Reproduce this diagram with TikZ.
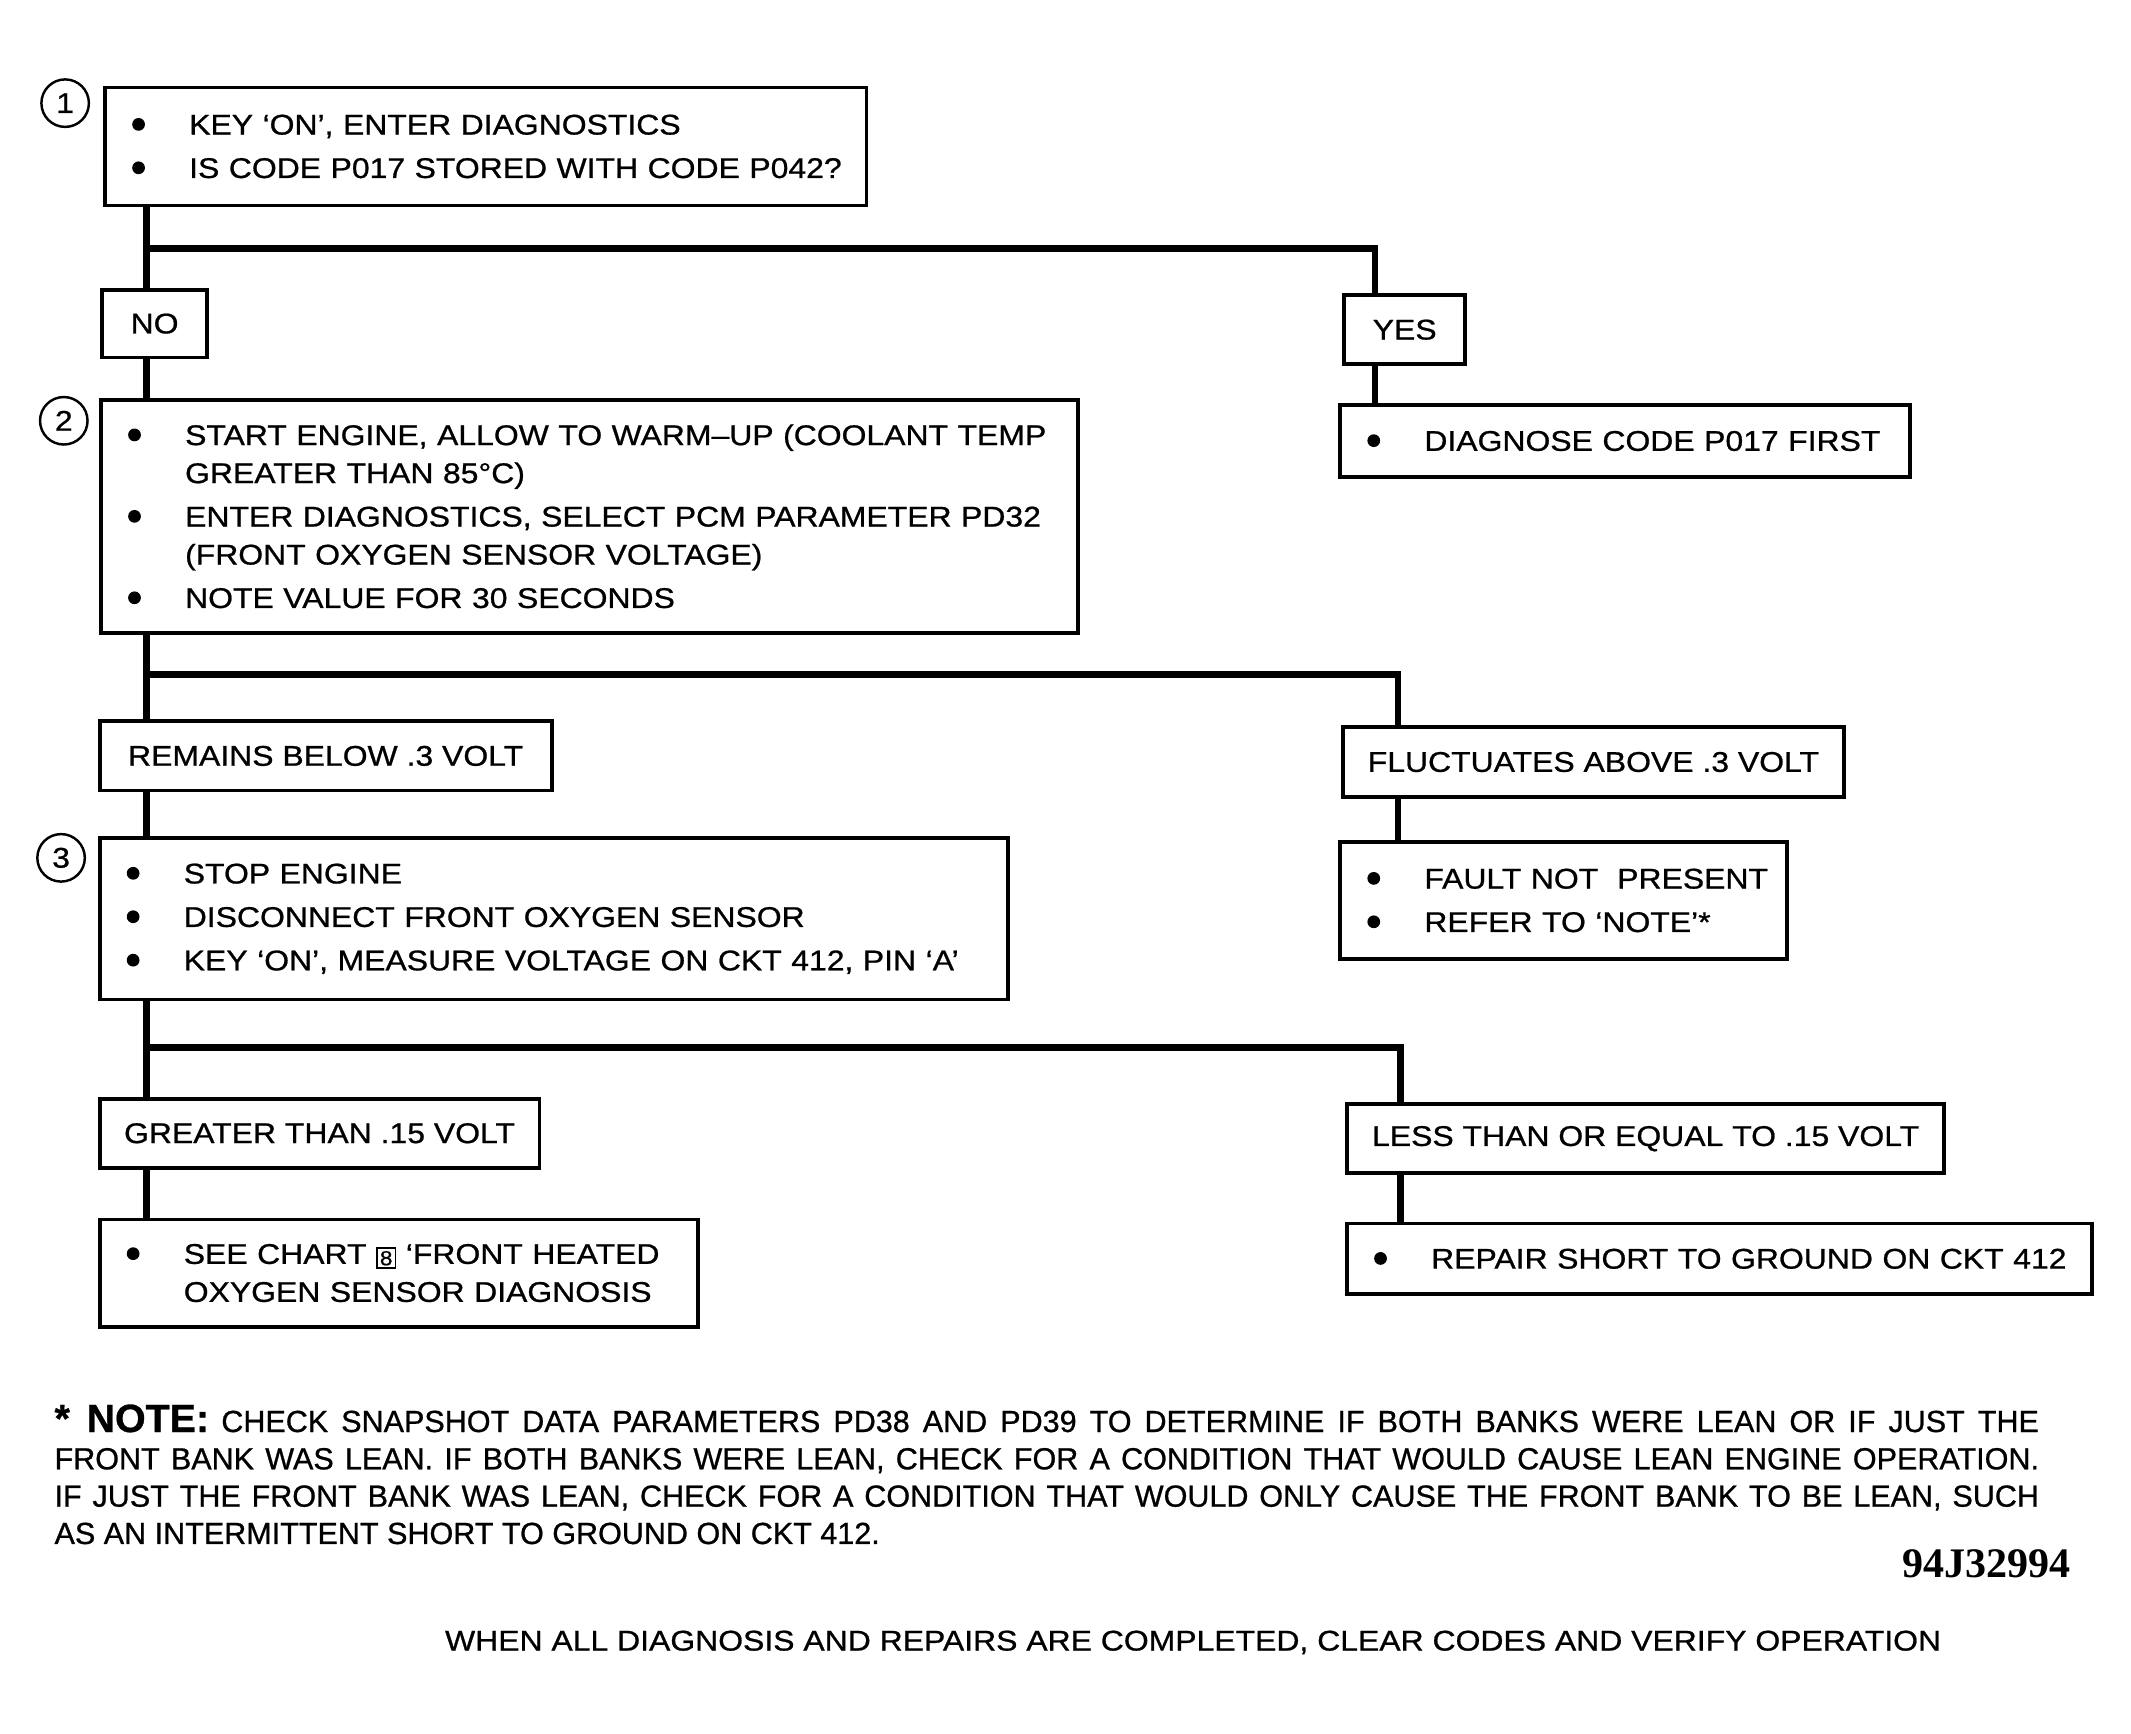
\documentclass[tikz,border=0pt]{standalone}
\usepackage{graphicx}
\usepackage{fontspec}
\setmainfont[FakeStretch=1.12, FakeBold=0.8]{Liberation Sans}
\newfontfamily\notefont[FakeBold=0.8]{Liberation Sans}
\newfontfamily\tagfont{Liberation Serif}
\newcommand{\boxfont}{\fontsize{21}{28}\selectfont}
\newcommand{\itm}[1]{\makebox[42pt][l]{\raisebox{2.8pt}{\tikz\fill (0,0) circle (4.7pt);}}\mbox{#1}}
\newcommand{\cont}[1]{\hspace*{42pt}\mbox{#1}}
\newcommand{\chartbox}[1]{{\setlength{\fboxsep}{1.5pt}\setlength{\fboxrule}{1.3pt}\raisebox{-1pt}{\fbox{\fontsize{15}{15}\selectfont #1}}}}
\tikzset{
  box/.style={draw, line width=2.8pt, anchor=north west, inner sep=0pt, inner xsep=20pt, align=left, font=\boxfont},
  tag/.style={box, align=center, inner xsep=0pt},
  link/.style={line width=5pt},
  num/.style={draw, circle, line width=1.8pt, minimum size=35pt, inner sep=0pt, font=\boxfont},
  notetext/.style={anchor=base west, inner sep=0pt, font=\notefont\fontsize{22.5}{22.5}\selectfont}
}
\begin{document}
\begin{tikzpicture}[x=1pt, y=-1pt]
\useasboundingbox (0,0) rectangle (1570,1277);
\node [num] (n1) at (48,76) {1};
\node [box, text width=521pt, minimum height=87pt] (step1) at (76,63)
  {\itm{KEY ‘ON’, ENTER DIAGNOSTICS}\\[4pt]\itm{IS CODE P017 STORED WITH CODE P042?}};
\node [tag, minimum width=77pt, minimum height=50pt] (no) at (74,212) {NO};
\node [tag, minimum width=89pt, minimum height=51pt] (yes) at (989,216) {YES};
\node [box, text width=380pt, minimum height=53pt] (diag) at (986,297) {\itm{DIAGNOSE CODE P017 FIRST}};
\node [num] (n2) at (47,310) {2};
\node [box, text width=680pt, minimum height=172pt] (step2) at (73,293)
  {\itm{START ENGINE, ALLOW TO WARM–UP (COOLANT TEMP}\\ \cont{GREATER THAN 85°C)}\\[4pt]
   \itm{ENTER DIAGNOSTICS, SELECT PCM PARAMETER PD32}\\ \cont{(FRONT OXYGEN SENSOR VOLTAGE)}\\[4pt]
   \itm{NOTE VALUE FOR 30 SECONDS}};
\node [tag, minimum width=333pt, minimum height=51pt] (low) at (72,530) {REMAINS BELOW .3 VOLT};
\node [tag, minimum width=369pt, minimum height=52pt] (high) at (988,534) {FLUCTUATES ABOVE .3 VOLT};
\node [box, text width=289pt, minimum height=86pt] (fault) at (986,619)
  {\itm{FAULT NOT\ \ PRESENT}\\[4pt]\itm{REFER TO ‘NOTE’*}};
\node [num] (n3) at (45,632) {3};
\node [box, text width=629pt, minimum height=119pt] (step3) at (72,616)
  {\itm{STOP ENGINE}\\[4pt]\itm{DISCONNECT FRONT OXYGEN SENSOR}\\[4pt]\itm{KEY ‘ON’, MEASURE VOLTAGE ON CKT 412, PIN ‘A’}};
\node [tag, minimum width=324pt, minimum height=51pt] (over) at (72,808) {GREATER THAN .15 VOLT};
\node [tag, minimum width=440pt, minimum height=51pt] (under) at (991,812) {LESS THAN OR EQUAL TO .15 VOLT};
\node [box, text width=509pt, minimum height=52pt] (repair) at (991,900) {\itm{REPAIR SHORT TO GROUND ON CKT 412}};
\node [box, text width=401pt, minimum height=79pt] (chart) at (72,897)
  {\itm{SEE CHART \chartbox{8} ‘FRONT HEATED}\\ \cont{OXYGEN SENSOR DIAGNOSIS}};
% trunk and branches
\coordinate (j1) at (108,183);
\coordinate (j2) at (108,497);
\coordinate (j3) at (108,772);
\coordinate (yesin) at ([xshift=24pt]yes.north west);
\coordinate (yesout) at ([xshift=24pt]yes.south west);
\coordinate (highin) at ([xshift=42pt]high.north west);
\coordinate (highout) at ([xshift=42pt]high.south west);
\coordinate (underin) at ([xshift=41pt]under.north west);
\coordinate (underout) at ([xshift=41pt]under.south west);
\draw [link] (j1 |- step1.south) -- (j1 |- no.north);
\draw [link] (j1) -| (yesin);
\draw [link] (yesout) -- (yesout |- diag.north);
\draw [link] (j1 |- no.south) -- (j1 |- step2.north);
\draw [link] (j2 |- step2.south) -- (j2 |- low.north);
\draw [link] (j2) -| (highin);
\draw [link] (highout) -- (highout |- fault.north);
\draw [link] (j2 |- low.south) -- (j2 |- step3.north);
\draw [link] (j3 |- step3.south) -- (j3 |- over.north);
\draw [link] (j3) -| (underin);
\draw [link] (underout) -- (underout |- repair.north);
\draw [link] (j3 |- over.south) -- (j3 |- chart.north);
% note
\node [notetext] (note1) at (40,1055) {\makebox[1462pt][s]{{\bfseries\fontsize{29}{29}\selectfont * NOTE:}\hspace{9pt}CHECK SNAPSHOT DATA PARAMETERS PD38 AND PD39 TO DETERMINE IF BOTH BANKS WERE LEAN OR IF JUST THE}};
\node [notetext] (note2) at (40,1082.5) {\makebox[1462pt][s]{FRONT BANK WAS LEAN. IF BOTH BANKS WERE LEAN, CHECK FOR A CONDITION THAT WOULD CAUSE LEAN ENGINE OPERATION.}};
\node [notetext] (note3) at (40,1110) {\makebox[1462pt][s]{IF JUST THE FRONT BANK WAS LEAN, CHECK FOR A CONDITION THAT WOULD ONLY CAUSE THE FRONT BANK TO BE LEAN, SUCH}};
\node [notetext] (note4) at (40,1137.5) {AS AN INTERMITTENT SHORT TO GROUND ON CKT 412.};
\node [anchor=base east, inner sep=0pt, font=\tagfont\bfseries\fontsize{31}{31}\selectfont] (figno) at (1526,1162) {94J32994};
\node [anchor=base, inner sep=0pt, font=\boxfont] (footer) at (879,1216) {WHEN ALL DIAGNOSIS AND REPAIRS ARE COMPLETED, CLEAR CODES AND VERIFY OPERATION};
\end{tikzpicture}
\end{document}
